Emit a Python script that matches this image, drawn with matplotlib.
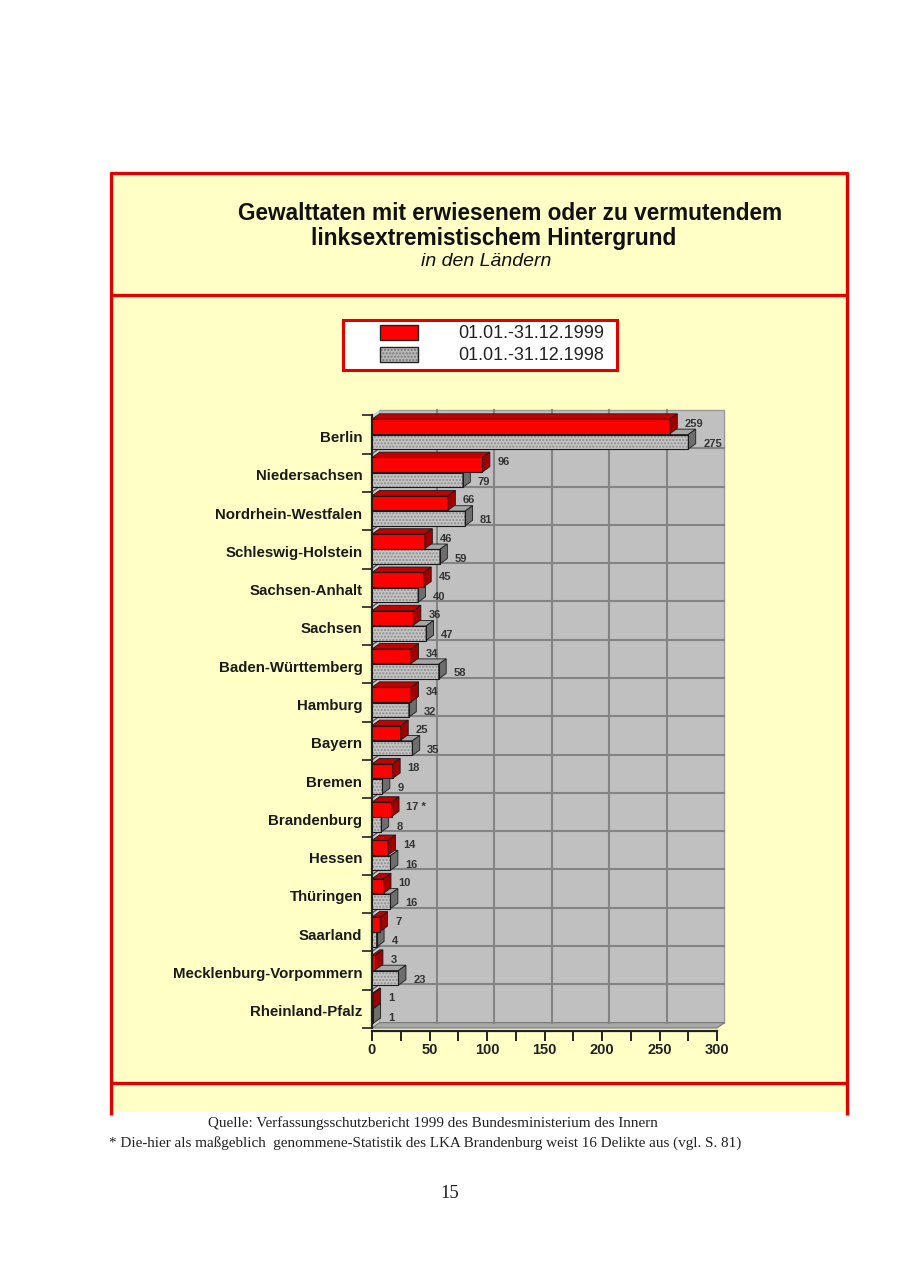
import matplotlib.pyplot as plt
from matplotlib.patches import Rectangle, Polygon

# =========================
# DATA
# =========================
laender = [
    "Berlin", "Niedersachsen", "Nordrhein-Westfalen", "Schleswig-Holstein",
    "Sachsen-Anhalt", "Sachsen", "Baden-Württemberg", "Hamburg", "Bayern",
    "Bremen", "Brandenburg", "Hessen", "Thüringen", "Saarland",
    "Mecklenburg-Vorpommern", "Rheinland-Pfalz",
]
werte_1999 = [259, 96, 66, 46, 45, 36, 34, 34, 25, 18, 17, 14, 10, 7, 3, 1]
werte_1998 = [275, 79, 81, 59, 40, 47, 58, 32, 35, 9, 8, 16, 16, 4, 23, 1]
labels_1999 = ["259", "96", "66", "46", "45", "36", "34", "34", "25", "18",
               "17 *", "14", "10", "7", "3", "1"]
legend_labels = ["01.01.-31.12.1999", "01.01.-31.12.1998"]
x_ticks = [0, 50, 100, 150, 200, 250, 300]

TITLE_1 = "Gewalttaten mit erwiesenem oder zu vermutendem"
TITLE_2 = "linksextremistischem Hintergrund"
SUBTITLE = "in den Ländern"
QUELLE = "Quelle: Verfassungsschutzbericht 1999 des Bundesministerium des Innern"
FUSSNOTE = ("* Die-hier als maßgeblich  genommene-Statistik des LKA Brandenburg "
            "weist 16 Delikte aus (vgl. S. 81)")

# =========================
# STYLE
# =========================
YELLOW = "#ffffc6"
RED_LINE = "#e00000"
WALL = "#c0c0c0"
GRID = "#848484"
SANS = "Liberation Sans"
SERIF = "Liberation Serif"

DX = 6.5      # 3D depth in x data units
DY = 0.14     # 3D depth in y data units (category units)

fig = plt.figure(figsize=(9, 12.71), dpi=100)
fig.patch.set_facecolor("white")

# background layer in pixel coordinates
bg = fig.add_axes([0, 0, 1, 1], zorder=0)
bg.set_xlim(0, 900)
bg.set_ylim(1271, 0)
bg.axis("off")

bg.add_patch(Rectangle((110, 172), 738, 940, facecolor=YELLOW, edgecolor="none"))
lw = 2.4
bg.plot([110, 848], [173, 173], color=RED_LINE, lw=lw, solid_capstyle="butt")
bg.plot([110, 848], [295, 295], color=RED_LINE, lw=lw, solid_capstyle="butt")
bg.plot([110, 848], [1083, 1083], color=RED_LINE, lw=lw, solid_capstyle="butt")
bg.plot([111, 111], [172, 1115], color=RED_LINE, lw=lw, solid_capstyle="butt")
bg.plot([847, 847], [172, 1115], color=RED_LINE, lw=lw, solid_capstyle="butt")

bg.text(510, 213, TITLE_1, ha="center", va="center", fontsize=16.3,
        fontweight="bold", family=SANS, color="#111111")
bg.text(494, 238, TITLE_2, ha="center", va="center", fontsize=16.3,
        fontweight="bold", family=SANS, color="#111111")
bg.text(486, 262, SUBTITLE, ha="center", va="center", fontsize=14,
        style="italic", family=SANS, color="#111111")

# legend
bg.add_patch(Rectangle((343, 320), 274, 50, facecolor="white",
                       edgecolor=RED_LINE, lw=2.2))
bg.add_patch(Rectangle((380, 325), 38, 15, facecolor="#ff0000",
                       edgecolor="#222222", lw=1))
bg.add_patch(Rectangle((380, 347), 38, 15, facecolor="#b8b8b8",
                       edgecolor="#777777", lw=0, hatch="....."))
bg.add_patch(Rectangle((380, 347), 38, 15, facecolor="none",
                       edgecolor="#222222", lw=1))
bg.text(458, 333, legend_labels[0], ha="left", va="center", fontsize=13,
        family=SANS, color="#222222")
bg.text(458, 355, legend_labels[1], ha="left", va="center", fontsize=13,
        family=SANS, color="#222222")

# footer
bg.text(433, 1123, QUELLE, ha="center", va="center", fontsize=10.9,
        family=SERIF, color="#222222")
bg.text(109, 1143, FUSSNOTE, ha="left", va="center", fontsize=10.9,
        family=SERIF, color="#222222")
bg.text(450, 1194, "15", ha="center", va="center", fontsize=13.5,
        family=SERIF, color="#222222")

# =========================
# CHART
# =========================
ax = fig.add_axes([372 / 900, 1 - 1028 / 1271, 345 / 900, 618 / 1271], zorder=2)
ax.set_facecolor("none")
n = len(laender)
ax.set_xlim(0, 300)
ax.set_ylim(n, -DY)

# back wall
ax.add_patch(Rectangle((DX, -DY), 300, n, facecolor=WALL, edgecolor="#9a9a9a",
                       lw=1, clip_on=False, zorder=0))
# left wall
ax.add_patch(Polygon([(0, 0), (DX, -DY), (DX, n - DY), (0, n)], closed=True,
                     facecolor="#d0d0d0", edgecolor="none", clip_on=False, zorder=0))
# floor
ax.add_patch(Polygon([(0, n), (DX, n - DY), (300 + DX, n - DY), (300, n)],
                     closed=True, facecolor="#a8a8a8", edgecolor="#777777", lw=0.8,
                     clip_on=False, zorder=0))
# grid on back wall
for xv in x_ticks[1:-1]:
    ax.plot([xv + DX, xv + DX], [-DY, n - DY], color=GRID, lw=1.5, zorder=0.5,
            clip_on=False)
for k in range(1, n):
    ax.plot([DX, 300 + DX], [k - DY, k - DY], color=GRID, lw=1.5, zorder=0.5,
            clip_on=False)
    ax.plot([0, DX], [k, k - DY], color="#555555", lw=1, zorder=0.6, clip_on=False)

H = 0.38
red_top = [i + 0.10 for i in range(n)]
gray_top = [i + 0.50 for i in range(n)]


def bar3d(y0, v, front, top, side, hatch=None):
    if hatch:
        ax.barh(y0, v, height=H, left=0, align="edge", color=front,
                edgecolor="#8c8c8c", lw=0, hatch=hatch, zorder=3)
        ax.barh(y0, v, height=H, left=0, align="edge", color="none",
                edgecolor="#1a1a1a", lw=0.8, zorder=3.1)
    else:
        ax.barh(y0, v, height=H, left=0, align="edge", color=front,
                edgecolor="#1a1a1a", lw=0.8, zorder=3)
    ax.add_patch(Polygon([(0, y0), (DX, y0 - DY), (v + DX, y0 - DY), (v, y0)],
                         closed=True, facecolor=top, edgecolor="#1a1a1a", lw=0.6,
                         zorder=3, clip_on=False))
    ax.add_patch(Polygon([(v, y0), (v + DX, y0 - DY), (v + DX, y0 + H - DY),
                          (v, y0 + H)], closed=True, facecolor=side,
                         edgecolor="#1a1a1a", lw=0.6, zorder=3, clip_on=False))


# draw from bottom to top so upper faces overlap correctly
for i in reversed(range(n)):
    bar3d(gray_top[i], werte_1998[i], "#c4c4c4", "#a6a6a6", "#6e6e6e", hatch=".....")
    bar3d(red_top[i], werte_1999[i], "#ff0000", "#c40000", "#a00000")

for i in range(n):
    ax.text(werte_1999[i] + 13, i + 0.22, labels_1999[i], ha="left", va="center",
            fontsize=8, fontweight="bold", family=SANS, color="#333333",
            zorder=5, clip_on=False)
    ax.text(werte_1998[i] + 13, i + 0.74, str(werte_1998[i]), ha="left",
            va="center", fontsize=8, fontweight="bold", family=SANS,
            color="#333333", zorder=5, clip_on=False)

# axes
for s in ["top", "right"]:
    ax.spines[s].set_visible(False)
ax.spines["left"].set_color("#222222")
ax.spines["left"].set_linewidth(1.6)
ax.spines["left"].set_bounds(0, n)
ax.spines["bottom"].set_color("#222222")
ax.spines["bottom"].set_linewidth(1.6)
ax.spines["bottom"].set_position(("data", n + 0.08))

ax.set_xticks(x_ticks)
ax.set_xticks(range(25, 300, 50), minor=True)
ax.set_xticklabels([str(t) for t in x_ticks], fontsize=10.5, fontweight="bold",
                   family=SANS, color="#222222")
ax.tick_params(axis="x", which="both", direction="out", length=7, width=1.4,
               color="#222222", pad=1.5)

ax.set_yticks([i + 0.55 for i in range(n)])
ax.set_yticklabels(laender, fontsize=10.8, fontweight="bold", family=SANS,
                   color="#1a1a1a")
ax.set_yticks(range(n + 1), minor=True)
ax.tick_params(axis="y", which="major", length=0, pad=7)
ax.tick_params(axis="y", which="minor", direction="out", length=7, width=1.3,
               color="#333333")

fig.savefig("out.png", dpi=100, facecolor="white")
